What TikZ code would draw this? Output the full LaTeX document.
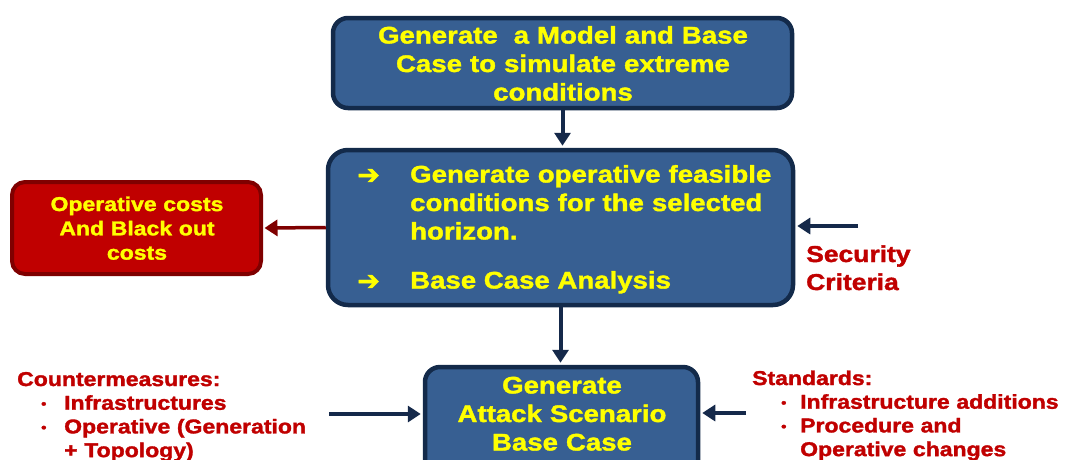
\documentclass[tikz,border=0pt]{standalone}
\usepackage{fontspec}
\setmainfont{Liberation Sans}[FakeStretch=1.15, BoldFeatures={FakeBold=1.6}]
\newfontfamily\dingfont{DejaVu Sans}[FakeBold=1.5]
\usetikzlibrary{arrows.meta}
\definecolor{boxblue}{HTML}{375F92}
\definecolor{boxedge}{HTML}{132A4A}
\definecolor{costfill}{HTML}{C00000}
\definecolor{costedge}{HTML}{7F0000}
\definecolor{labelred}{HTML}{C00000}
\definecolor{hiyellow}{HTML}{FFFF00}
\definecolor{linkblue}{HTML}{15294A}
% small list bullet
\newcommand{\listdot}{\raisebox{1.5pt}{\fontsize{13}{13}\selectfont•}}

\begin{document}
\begin{tikzpicture}[x=1pt,y=-1pt,
  stage/.style={draw=boxedge, fill=boxblue, line width=4.5pt, rounded corners=15pt,
    inner sep=0pt},
  costbox/.style={draw=costedge, fill=costfill, line width=4pt, rounded corners=13pt,
    inner sep=0pt, minimum width=249pt, minimum height=92pt},
  boxtext/.style={text=hiyellow, inner sep=0pt, font=\bfseries\fontsize{24}{28.5}\selectfont},
  costtext/.style={text=hiyellow, inner sep=0pt, font=\bfseries\fontsize{20}{24.3}\selectfont},
  sidelabel/.style={text=labelred, inner sep=0pt, anchor=base west, align=left},
  bullet/.style={text=hiyellow, inner sep=0pt, anchor=base west, font=\dingfont\fontsize{27}{27}\selectfont},
  flow/.style={draw=linkblue, line width=4pt, -{Triangle[length=13pt,width=16pt]}},
  costflow/.style={draw=costedge, line width=3.5pt, -{Triangle[length=13pt,width=16pt]}}
]
\useasboundingbox (0,0) rectangle (1067,459);
\clip (0,0) rectangle (1067,459);

% boxes
\node[stage, minimum width=459pt, minimum height=90pt] (model) at (562.5,63) {};
\node[stage, rounded corners=20pt, minimum width=465pt, minimum height=155pt] (ops) at (560.5,227.5) {};
\node[costbox] (costs) at (136.5,228) {};
\node[stage, minimum width=273pt, minimum height=112pt] (attack) at (561.5,423) {};

% box texts
\node[boxtext, anchor=base, text width=450pt, align=center] (modeltxt) at (563,43.5)
  {Generate\ \ a Model and Base\\Case to simulate extreme\\conditions};
\node[bullet] (b1) at (357,184) {➔};
\node[boxtext, anchor=base west, text width=380pt, align=left] (opstxt) at (410,182.5)
  {Generate operative feasible\\conditions for the selected\\horizon.};
\node[bullet] (b2) at (357,290) {➔};
\node[boxtext, anchor=base west] (basecase) at (410,288.5) {Base Case Analysis};
\node[costtext, anchor=base, text width=240pt, align=center] (coststxt) at (137,211)
  {Operative costs\\And Black out\\costs};
\node[boxtext, anchor=base, text width=270pt, align=center] (attacktxt) at (562,393.5)
  {Generate\\Attack Scenario\\Base Case};

% side labels
\node[sidelabel, text width=200pt, font=\bfseries\fontsize{23}{28}\selectfont] (security) at (806,262)
  {Security\\Criteria};
\node[sidelabel, text width=320pt, font=\bfseries\fontsize{20}{23.7}\selectfont] (counter) at (17,386)
  {Countermeasures:\\
   \hspace*{24pt}\makebox[23pt][l]{\listdot}Infrastructures\\
   \hspace*{24pt}\makebox[23pt][l]{\listdot}Operative (Generation\\
   \hspace*{47pt}+ Topology)};
\node[sidelabel, text width=315pt, font=\bfseries\fontsize{20}{23.7}\selectfont] (standards) at (752,385)
  {Standards:\\
   \hspace*{29pt}\makebox[19pt][l]{\listdot}Infrastructure additions\\
   \hspace*{29pt}\makebox[19pt][l]{\listdot}Procedure and\\
   \hspace*{48pt}Operative changes};

% free ends of the input arrows
\coordinate (secin) at (858,226);
\coordinate (cmin) at (329,414);
\coordinate (stdin) at (746,413);

% connectors
\draw[flow, shorten >=2pt] (model.south) -- (model.south |- ops.north);
\draw[flow, shorten >=2pt] (ops.south) -- (ops.south |- attack.north);
\draw[costflow, shorten >=1.5pt] (ops.west) -- (costs.east);
\draw[flow, shorten >=2pt] (secin) -- (secin -| ops.east);
\draw[flow, shorten >=2pt] (cmin) -- (cmin -| attack.west);
\draw[flow, shorten >=2pt] (stdin) -- (stdin -| attack.east);
\end{tikzpicture}
\end{document}
